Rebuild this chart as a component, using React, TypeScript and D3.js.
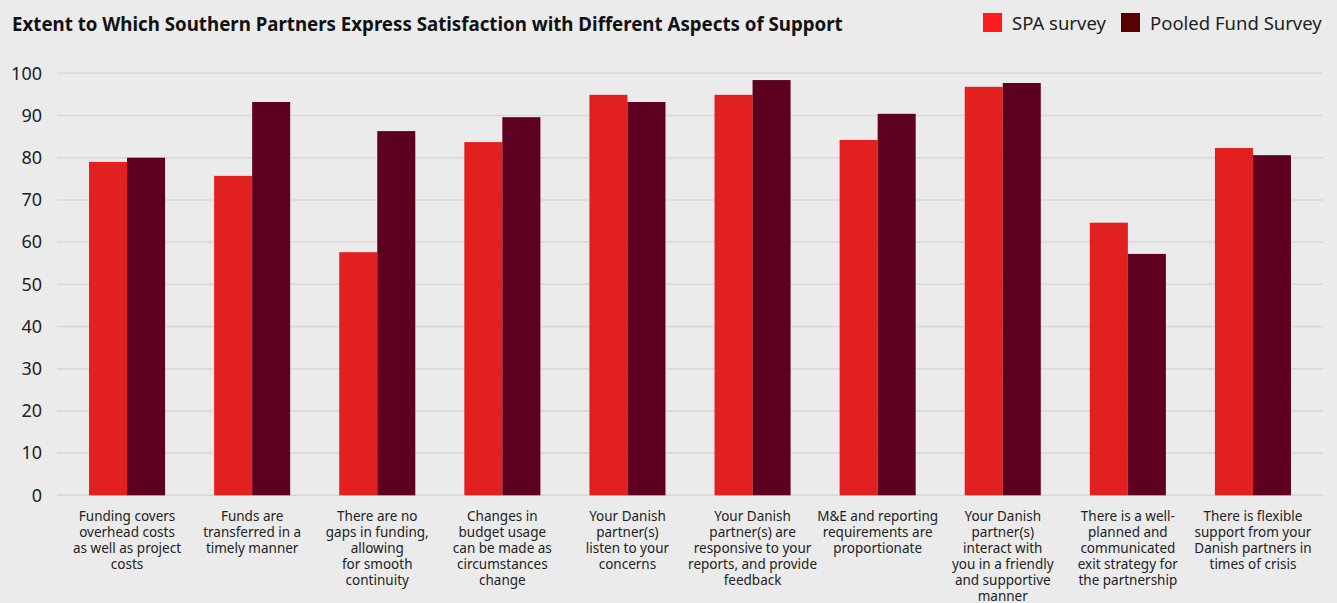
import React from "react";
import * as d3 from "d3";

const categories: string[][] = [
  ["Funding covers", "overhead costs", "as well as project", "costs"],
  ["Funds are", "transferred in a", "timely manner"],
  ["There are no", "gaps in funding,", "allowing", "for smooth", "continuity"],
  ["Changes in", "budget usage", "can be made as", "circumstances", "change"],
  ["Your Danish", "partner(s)", "listen to your", "concerns"],
  ["Your Danish", "partner(s) are", "responsive to your", "reports, and provide", "feedback"],
  ["M&E and reporting", "requirements are", "proportionate"],
  ["Your Danish", "partner(s)", "interact with", "you in a friendly", "and supportive", "manner"],
  ["There is a well-", "planned and", "communicated", "exit strategy for", "the partnership"],
  ["There is flexible", "support from your", "Danish partners in", "times of crisis"],
];

const spaValues = [79, 75.7, 57.6, 83.7, 94.9, 94.9, 84.2, 96.8, 64.6, 82.3];
const pooledValues = [80, 93.2, 86.3, 89.6, 93.2, 98.4, 90.4, 97.7, 57.2, 80.6];
const seriesNames = ["SPA survey", "Pooled Fund Survey"];
const yTicks = [0, 10, 20, 30, 40, 50, 60, 70, 80, 90, 100];

const W = 1337;
const H = 603;
const FONT = "'Noto Sans', 'Open Sans', sans-serif";
const barColors = ["#e32020", "#5e0020"];
const legendColors = ["#ff1c1c", "#590000"];

export default function App() {
  const idx = categories.map((_, i) => String(i));
  const x0 = d3.scaleBand().domain(idx).range([64.5, 1315.5]).paddingInner(0.392).paddingOuter(0.196);
  const x1 = d3.scaleBand().domain(["0", "1"]).range([0, x0.bandwidth()]).padding(0);
  const y = d3.scaleLinear().domain([0, 100]).range([495.3, 73.3]);
  const series = [spaValues, pooledValues];

  return (
    <svg
      width={W}
      height={H}
      style={{ position: "absolute", left: 0, top: 0, background: "#ebebeb" }}
      fontFamily={FONT}
    >
      <rect x={0} y={0} width={W} height={H} fill="#ebebeb" />
      <text x={12} y={31} fontSize={18.7} fontWeight={700} fill="#111">
        Extent to Which Southern Partners Express Satisfaction with Different Aspects of Support
      </text>
      {/* legend */}
      <g>
        <rect x={983} y={13} width={19} height={19} fill={legendColors[0]} />
        <text x={1012} y={29.5} fontSize={18.5} fill="#222">{seriesNames[0]}</text>
        <rect x={1121} y={13} width={19} height={19} fill={legendColors[1]} />
        <text x={1150} y={29.5} fontSize={18.5} fill="#222">{seriesNames[1]}</text>
      </g>
      {/* grid */}
      {yTicks.map((t) => (
        <g key={t}>
          <line x1={57} x2={1323} y1={y(t)} y2={y(t)} stroke="#d7d7d7" strokeWidth={1.5} />
          <text x={42} y={y(t)} dy="0.35em" textAnchor="end" fontSize={18} fill="#222">
            {t}
          </text>
        </g>
      ))}
      {/* bars */}
      {categories.map((_, i) => (
        <g key={i} transform={`translate(${x0(String(i))},0)`}>
          {series.map((s, j) => (
            <rect
              key={j}
              x={x1(String(j))}
              y={y(s[i])}
              width={x1.bandwidth()}
              height={y(0) - y(s[i])}
              fill={barColors[j]}
            />
          ))}
        </g>
      ))}
      {/* x labels */}
      {categories.map((lines, i) => (
        <text
          key={i}
          x={(x0(String(i)) as number) + x0.bandwidth() / 2}
          y={520.5}
          textAnchor="middle"
          fontSize={13.5}
          fill="#222"
        >
          {lines.map((l, k) => (
            <tspan key={k} x={(x0(String(i)) as number) + x0.bandwidth() / 2} dy={k === 0 ? 0 : 16}>
              {l}
            </tspan>
          ))}
        </text>
      ))}
    </svg>
  );
}
